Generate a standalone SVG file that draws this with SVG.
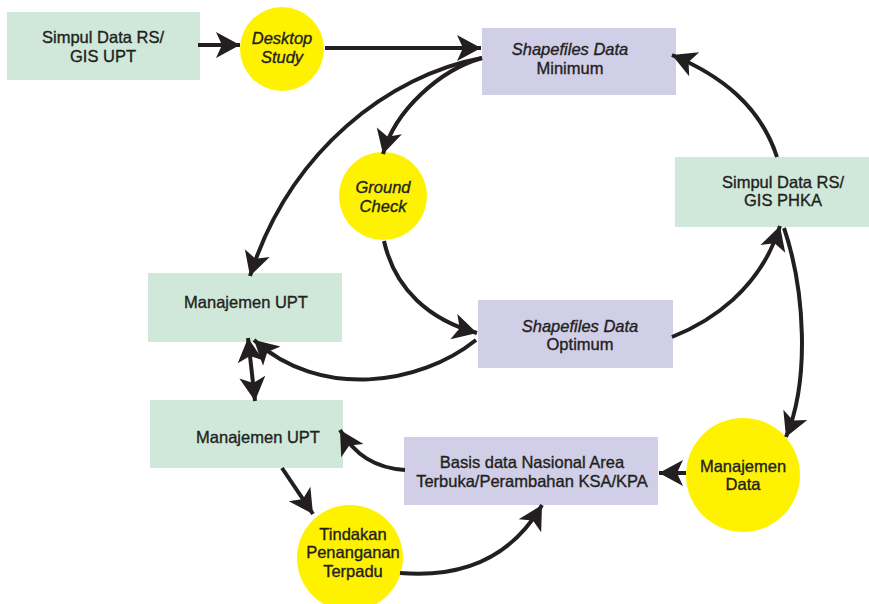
<svg xmlns="http://www.w3.org/2000/svg" width="869" height="604" viewBox="0 0 869 604">
<defs>
<style>
.g{fill:#d0e8da}
.l{fill:#d1cee8}
.y{fill:#fff200}
.t{font-family:"Liberation Sans",Arial,sans-serif;font-size:16.5px;fill:#231f20;stroke:#231f20;stroke-width:0.35;text-anchor:middle}
.i{font-style:italic}
.c{fill:none;stroke:#231f20;stroke-width:4}
</style>
<marker id="ah" viewBox="-25 -14 26 28" refX="0" refY="0" markerWidth="26" markerHeight="28" markerUnits="userSpaceOnUse" orient="auto-start-reverse">
<path d="M0,0 L-24,-13 L-18,0 L-24,13 Z" fill="#231f20"/>
</marker>
</defs>
<rect width="869" height="604" fill="#ffffff"/>

<g id="simpul-upt"><rect class="g" x="7" y="12" width="193" height="68"/><text class="t" x="103" y="43">Simpul Data RS/</text><text class="t" x="103" y="62">GIS UPT</text></g>
<g id="desktop-study"><circle class="y" cx="282" cy="49" r="42"/><text class="t i" x="282" y="44">Desktop</text><text class="t i" x="282" y="63">Study</text></g>
<g id="shp-min"><rect class="l" x="482" y="28" width="194" height="67"/><text class="t i" x="570" y="55">Shapefiles Data</text><text class="t" x="570" y="74">Minimum</text></g>
<g id="simpul-phka"><rect class="g" x="675" y="157" width="194" height="70"/><text class="t" x="783" y="188">Simpul Data RS/</text><text class="t" x="783" y="206">GIS PHKA</text></g>
<g id="ground-check"><circle class="y" cx="383" cy="196" r="44"/><text class="t i" x="383" y="193">Ground</text><text class="t i" x="383" y="212">Check</text></g>
<g id="manajemen-upt-1"><rect class="g" x="148" y="273" width="194" height="69"/><text class="t" x="246" y="308">Manajemen UPT</text></g>
<g id="shp-opt"><rect class="l" x="478" y="300" width="195" height="68"/><text class="t i" x="580" y="332">Shapefiles Data</text><text class="t" x="580" y="350">Optimum</text></g>
<g id="manajemen-upt-2"><rect class="g" x="150" y="400" width="193" height="68"/><text class="t" x="258" y="443">Manajemen UPT</text></g>
<g id="basis-data"><rect class="l" x="404" y="437" width="254" height="68"/><text class="t" x="532" y="468">Basis data Nasional Area</text><text class="t" x="532" y="487">Terbuka/Perambahan KSA/KPA</text></g>
<g id="manajemen-data"><circle class="y" cx="743" cy="475" r="57"/><text class="t" x="743" y="472">Manajemen</text><text class="t" x="743" y="490">Data</text></g>
<g id="tindakan"><circle class="y" cx="350" cy="558" r="53"/><text class="t" x="353" y="540">Tindakan</text><text class="t" x="353" y="558">Penanganan</text><text class="t" x="353" y="577">Terpadu</text></g>

<g id="connectors">
<path class="c" marker-end="url(#ah)" d="M198,45 L240,45"/>
<path class="c" marker-end="url(#ah)" d="M325,48 L481,48"/>
<path class="c" marker-end="url(#ah)" d="M482,58 C390,75 290,150 250,276"/>
<path class="c" marker-end="url(#ah)" d="M482,58 C440,70 395,110 383,154"/>
<path class="c" marker-end="url(#ah)" d="M384,241 C395,290 430,320 477,333"/>
<path class="c" marker-end="url(#ah)" d="M476,340 C420,385 320,400 254,340"/>
<path class="c" marker-start="url(#ah)" marker-end="url(#ah)" d="M248,338 L255,401"/>
<path class="c" marker-end="url(#ah)" d="M672,337 C710,322 760,290 780,226"/>
<path class="c" marker-end="url(#ah)" d="M784,228 C805,290 810,380 786,437"/>
<path class="c" marker-end="url(#ah)" d="M777,157 C760,105 720,75 672,55"/>
<path class="c" marker-end="url(#ah)" d="M686,473 L659,473"/>
<path class="c" marker-end="url(#ah)" d="M405,470 C375,468 355,455 340,430"/>
<path class="c" marker-end="url(#ah)" d="M282,468 L313,514"/>
<path class="c" marker-end="url(#ah)" d="M400,573 C460,578 510,560 542,505"/>
</g>
</svg>
